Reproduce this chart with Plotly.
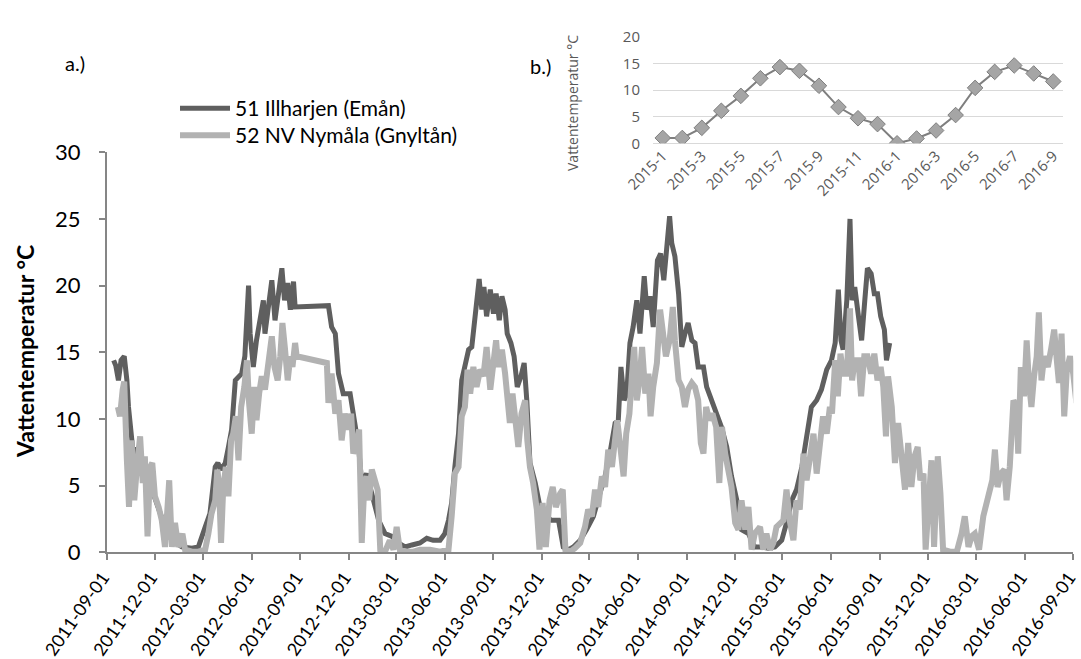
import pandas as pd
import plotly.graph_objects as go

# ---------------- data ----------------
start_date = "2011-09-01"

# 51 Illharjen (Emån): days since start_date, water temperature (°C)
eman_day = [13,17,22,27,33,38,41,46,50,57,
            63,72,79,88,98,110,123,142,161,173,
            186,195,205,210,216,224,230,236,243,255,
            261,268,271,277,283,290,296,299,305,312,
            318,323,328,331,336,342,347,353,356,419,
            425,432,438,447,460,466,476,482,491,501,
            514,526,539,551,564,577,592,605,617,630,
            639,646,652,658,665,671,677,684,690,696,
            704,709,713,718,725,731,736,742,747,753,
            757,764,770,776,783,789,794,800,810,819,
            829,841,854,863,873,882,895,907,920,932,
            942,951,961,967,972,978,983,989,995,1002,
            1008,1016,1021,1027,1033,1041,1047,1053,1058,1064,
            1068,1074,1081,1087,1093,1099,1106,1112,1118,1128,
            1134,1144,1153,1162,1172,1181,1191,1200,1213,1225,
            1238,1250,1263,1276,1285,1295,1304,1314,1320,1326,
            1332,1342,1351,1361,1370,1377,1383,1388,1392,1399,
            1405,1409,1414,1421,1427,1433,1438,1445,1451,1457,
            1463,1470,1474,1480]
eman_temp = [14.4,14.0,12.9,14.4,14.7,12.9,10.9,8.7,7.4,7.8,
             6.7,6.4,4.7,4.4,3.2,1.9,0.9,0.4,0.3,0.4,
             1.9,2.9,6.4,6.7,6.2,6.7,7.9,9.2,12.9,13.4,
             14.7,20.0,16.4,13.9,15.9,17.4,18.9,16.4,18.2,20.4,
             17.4,19.2,20.2,21.3,18.9,20.2,18.2,20.3,18.4,18.5,
             16.9,16.4,13.4,11.9,11.9,10.2,7.9,5.2,5.9,4.4,
             2.4,1.4,1.2,0.7,0.4,0.55,0.7,1.05,0.9,0.9,
             1.4,2.4,3.7,6.4,8.9,12.9,14.2,15.2,15.4,17.4,
             20.5,18.2,19.9,17.7,19.7,17.9,19.4,17.4,19.2,18.2,
             16.4,15.7,14.7,12.4,13.2,14.2,11.4,6.7,5.2,3.4,
             2.7,2.4,2.4,0.4,0.2,0.4,0.9,1.7,2.7,4.4,
             5.7,7.4,9.7,9.9,13.9,11.4,11.9,15.7,16.9,18.9,
             16.4,20.7,18.2,19.2,16.9,21.9,22.4,20.4,22.7,25.2,
             23.2,22.2,19.4,15.4,16.4,17.2,15.9,15.7,13.9,13.9,
             12.4,11.4,10.4,9.4,7.9,5.7,3.9,1.7,1.4,0.4,
             0.4,0.3,0.4,0.9,2.2,3.9,4.7,6.4,7.9,9.4,
             10.9,11.4,12.2,13.7,14.4,15.7,19.7,15.9,15.2,18.9,
             25.0,18.9,19.9,17.7,15.9,18.9,21.3,20.9,19.4,19.4,
             17.7,16.7,14.4,15.7]

# 52 NV Nymåla (Gnyltån)
gnyl_day = [21,25,30,33,38,42,47,52,57,63,
            68,72,77,82,86,91,98,104,110,118,
            123,129,135,143,148,161,173,186,192,198,
            205,209,212,216,220,225,230,235,239,244,
            249,254,260,265,269,274,279,283,288,293,
            299,304,309,312,317,323,328,332,337,342,
            347,351,356,359,416,419,425,432,438,444,
            450,457,462,466,473,477,482,487,491,496,
            501,507,512,517,526,535,542,548,554,567,
            580,592,611,630,646,652,658,665,671,677,
            682,687,693,699,706,712,718,725,731,736,
            740,747,753,757,762,767,772,778,784,791,
            795,800,806,813,818,824,830,837,843,849,
            857,862,867,876,885,895,904,910,917,923,
            929,936,942,948,955,961,965,970,977,982,
            988,993,997,1002,1007,1012,1018,1024,1028,1033,
            1040,1046,1052,1057,1064,1070,1074,1081,1087,1093,
            1099,1106,1112,1118,1123,1128,1133,1139,1145,1152,
            1158,1163,1169,1175,1181,1188,1194,1200,1207,1213,
            1219,1225,1235,1241,1247,1254,1260,1266,1273,1279,
            1285,1291,1298,1304,1310,1317,1323,1329,1336,1342,
            1348,1354,1361,1367,1371,1377,1382,1387,1392,1399,
            1405,1409,1414,1421,1426,1432,1438,1445,1451,1457,
            1463,1468,1473,1477,1484,1490,1496,1503,1509,1515,
            1521,1527,1533,1538,1544,1548,1553,1559,1564,1571,
            1576,1581,1594,1607,1616,1622,1629,1635,1641,1649,
            1657,1663,1670,1674,1679,1684,1690,1697,1701,1707,
            1714,1720,1723,1728,1734,1739,1743,1748,1753,1758,
            1762,1767,1772,1779,1785,1791,1796,1800,1805,1810,
            1815,1821,1827,1833]
gnyl_temp = [10.9,10.2,12.2,12.8,6.9,3.4,8.4,3.9,6.4,8.7,
             5.2,7.2,1.2,6.4,6.7,4.2,3.4,2.4,0.4,5.4,
             0.4,2.2,0.4,1.4,0.2,0.05,0.05,0.2,1.4,2.9,
             3.9,6.2,5.2,0.7,4.7,6.4,4.2,8.4,8.9,10.2,
             6.9,10.9,12.4,14.4,11.2,8.9,12.4,9.9,11.9,13.2,
             12.2,13.9,15.7,16.2,13.9,12.9,14.7,17.2,15.2,12.9,
             14.7,13.9,15.7,14.7,14.2,11.2,13.4,10.4,11.4,8.4,
             10.4,9.2,10.4,7.4,8.4,9.2,0.7,5.2,5.7,3.9,
             6.2,5.4,4.7,0.2,0.05,0.9,0.2,1.9,0.2,0.05,
             0.05,0.2,0.2,0.05,0.2,2.7,5.9,6.4,10.2,10.9,
             13.7,11.9,13.9,12.4,13.7,13.2,15.4,12.2,14.7,15.9,
             13.9,15.2,13.4,11.4,9.7,11.9,10.4,7.9,10.4,11.4,
             8.4,6.4,5.2,3.2,0.2,3.7,0.4,3.9,4.9,3.4,
             4.4,4.7,0.2,0.05,0.3,0.7,1.9,3.2,2.7,4.7,
             3.4,5.7,4.9,7.7,6.4,8.4,9.9,8.2,5.7,8.9,
             10.4,13.4,15.4,11.4,12.9,15.4,11.9,13.4,10.2,12.4,
             14.2,18.2,15.9,14.7,15.9,18.4,15.9,12.9,12.4,10.9,
             12.2,12.7,12.4,11.4,8.2,7.4,10.9,9.9,10.4,9.4,
             5.2,9.4,7.4,5.9,4.9,2.2,1.7,3.9,1.7,3.4,
             0.2,1.4,1.9,0.2,1.4,0.2,0.7,1.9,2.2,2.4,
             4.7,2.4,0.9,3.9,3.2,7.4,5.4,7.4,8.9,5.9,
             8.4,10.2,8.9,10.9,10.4,14.4,11.7,14.9,13.4,13.4,
             18.3,12.9,14.4,14.4,11.7,14.7,14.7,13.4,14.9,12.9,
             13.9,12.4,8.7,13.2,10.9,6.7,9.7,6.9,4.7,8.2,
             4.9,7.2,7.9,5.4,5.9,0.2,3.9,6.9,0.4,7.2,
             4.4,0.2,0.05,0.05,1.4,2.7,0.4,1.2,1.4,0.2,
             2.7,3.7,4.4,5.4,7.7,4.9,5.9,6.2,3.9,6.4,
             11.4,10.9,7.4,13.9,11.7,15.9,12.9,10.9,13.2,14.7,
             18.0,12.9,14.7,13.9,15.2,16.7,14.4,12.7,16.4,10.2,
             13.7,14.7,13.4,11.2]

# main x tick labels (quarterly)
main_ticks = ["2011-09-01","2011-12-01","2012-03-01","2012-06-01","2012-09-01",
              "2012-12-01","2013-03-01","2013-06-01","2013-09-01","2013-12-01",
              "2014-03-01","2014-06-01","2014-09-01","2014-12-01","2015-03-01",
              "2015-06-01","2015-09-01","2015-12-01","2016-03-01","2016-06-01",
              "2016-09-01"]

# inset b.) monthly values
inset_months = ["2015-1","2015-2","2015-3","2015-4","2015-5","2015-6","2015-7",
                "2015-8","2015-9","2015-10","2015-11","2015-12","2016-1","2016-2",
                "2016-3","2016-4","2016-5","2016-6","2016-7","2016-8","2016-9"]
inset_temp = [1.0,1.0,2.9,6.1,8.9,12.2,14.3,13.6,10.8,6.8,4.7,3.6,
              0.0,0.9,2.4,5.3,10.4,13.4,14.6,13.1,11.6]
inset_tick_months = inset_months[::2]

series_names = ["51 Illharjen (Emån)", "52 NV Nymåla (Gnyltån)"]
y_title = "Vattentemperatur °C"

# ---------------- figure ----------------
W, H = 1081, 659
base = pd.Timestamp(start_date)
eman_x = base + pd.to_timedelta(eman_day, unit="D")
gnyl_x = base + pd.to_timedelta(gnyl_day, unit="D")
x_lo = pd.Timestamp(main_ticks[0]) - pd.Timedelta(hours=4)
x_hi = pd.Timestamp(main_ticks[-1]) + pd.Timedelta(hours=4)

DARK = "#5f5f5f"
LIGHT = "#b2b2b2"
AXIS = "#868686"
INSET_TXT = "#595959"
MAINFONT = "Lato"
INSETFONT = "Open Sans"

fig = go.Figure()
fig.add_trace(go.Scatter(x=eman_x, y=eman_temp, mode="lines", name=series_names[0],
                         legend="legend", line=dict(color=DARK, width=5)))
fig.add_trace(go.Scatter(x=gnyl_x, y=gnyl_temp, mode="lines", name=series_names[1],
                         legend="legend2", line=dict(color=LIGHT, width=6)))
fig.add_trace(go.Scatter(x=inset_months, y=inset_temp, mode="lines+markers",
                         xaxis="x2", yaxis="y2", showlegend=False,
                         line=dict(color="#7f7f7f", width=2),
                         marker=dict(symbol="diamond", size=12, color="#a5a5a5",
                                     line=dict(color="#7f7f7f", width=1))))

def px(v):
    return v / W

def py(v):
    return (H - v) / H

legend_style = dict(xanchor="left", yanchor="top", bgcolor="rgba(0,0,0,0)",
                    font=dict(size=21, family=MAINFONT, color="black"), itemwidth=50)

fig.update_layout(
    width=W, height=H,
    margin=dict(l=0, r=0, t=0, b=0, autoexpand=False),
    paper_bgcolor="white", plot_bgcolor="rgba(0,0,0,0)",
    font=dict(family=MAINFONT, color="black"),
    xaxis=dict(domain=[px(106.7), px(1073.3)], type="date", automargin=False,
               range=[x_lo, x_hi],
               tickvals=main_ticks, ticktext=main_ticks, tickangle=-55,
               ticklabeloverflow="allow", ticklabelshift=-4,
               tickfont=dict(size=18, family=MAINFONT, color="black"),
               ticks="outside", ticklen=6, tickcolor=AXIS, tickwidth=1.5,
               showline=True, linecolor=AXIS, linewidth=1.5,
               showgrid=False, zeroline=False),
    yaxis=dict(domain=[py(552.3), py(152.3)], range=[0, 30], dtick=5, automargin=False,
               tickfont=dict(size=22, family=MAINFONT, color="black"),
               ticks="outside", ticklen=6, tickcolor=AXIS, tickwidth=1.5,
               ticklabelstandoff=14,
               showline=True, linecolor=AXIS, linewidth=1.5,
               showgrid=False, zeroline=False),
    xaxis2=dict(domain=[px(653), px(1063)], anchor="y2", type="category", automargin=False,
                range=[-0.5, len(inset_months) - 0.5],
                tickvals=inset_tick_months, ticktext=inset_tick_months,
                ticklabeloverflow="allow",
                tickangle=-45, tickfont=dict(size=15, family=INSETFONT, color=INSET_TXT),
                showline=False, showgrid=False, zeroline=False, ticks=""),
    yaxis2=dict(domain=[py(143.3), py(36.7)], anchor="x2", range=[0, 20], dtick=5,
                automargin=False,
                tickfont=dict(size=15, family=INSETFONT, color=INSET_TXT),
                showgrid=True, gridcolor="#d9d9d9", gridwidth=1,
                zeroline=True, zerolinecolor="#d9d9d9", zerolinewidth=1,
                showline=False, ticks="", ticklabelstandoff=12),
    legend=dict(x=px(175), y=py(88), **legend_style),
    legend2=dict(x=px(175), y=py(115), **legend_style),
    annotations=[
        dict(text="a.)", x=px(75), y=py(63), xref="paper", yref="paper",
             xanchor="center", yanchor="middle",
             showarrow=False, font=dict(size=20, family=MAINFONT, color="black")),
        dict(text="b.)", x=px(540), y=py(66), xref="paper", yref="paper",
             xanchor="center", yanchor="middle",
             showarrow=False, font=dict(size=20, family=MAINFONT, color="black")),
        dict(text="<b>" + y_title + "</b>", x=px(25), y=py(352), xref="paper", yref="paper",
             xanchor="center", yanchor="middle", textangle=-90, showarrow=False,
             font=dict(size=23, family=MAINFONT, color="black")),
        dict(text=y_title, x=px(572), y=py(103), xref="paper", yref="paper",
             xanchor="center", yanchor="middle", textangle=-90, showarrow=False,
             font=dict(size=14, family=INSETFONT, color=INSET_TXT)),
    ],
)

fig.write_html("out.html", config={"displayModeBar": False},
               post_script="document.body.style.margin='0';document.body.style.overflow='hidden';")
